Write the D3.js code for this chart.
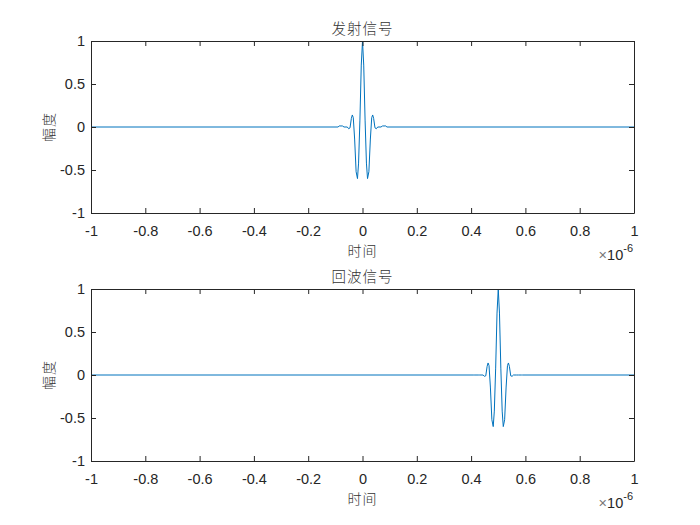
<!DOCTYPE html>
<html>
    <head>
        <meta charset="utf-8">
        <script src="https://cdn.jsdelivr.net/npm/d3@7"></script>
        <style>
            body { margin: 0; background: #fff; }
            .tick text { font-family: "Liberation Sans", Arial, sans-serif; font-size: 14.5px; fill: #262626; }
            .cjk { font-family: "Noto Sans CJK SC", sans-serif; font-weight: 300; fill: #333; }
        </style>
    </head>
    <body>
        <svg id="chart" width=700 height=525></svg>
        <script>
            // Data (time in microseconds, shown as x 10^-6)
            var xTicks = [-1, -0.8, -0.6, -0.4, -0.2, 0, 0.2, 0.4, 0.6, 0.8, 1];
            var yTicks = [-1, -0.5, 0, 0.5, 1];
            var titles = ["发射信号", "回波信号"];

            // pulse shape: offset from pulse centre (us) and amplitude
            var pulseOffset = [-0.09, -0.086, -0.074, -0.068, -0.056, -0.051, -0.046, -0.041, -0.0375, -0.034, -0.029,
                               -0.0235, -0.0185, -0.0145, -0.0095, -0.0045, 0,
                               0.0045, 0.0095, 0.0145, 0.0185, 0.0235, 0.029, 0.034, 0.0375, 0.041, 0.046,
                               0.051, 0.056, 0.068, 0.074, 0.086, 0.09];
            var txAmp = [0, 0.012, 0.012, 0, 0, -0.02, -0.01, 0.10, 0.14, 0.11, -0.14,
                         -0.52, -0.60, -0.42, 0.08, 0.72, 1.0,
                         0.72, 0.08, -0.42, -0.60, -0.52, -0.14, 0.11, 0.14, 0.10, -0.01,
                         -0.02, 0, 0, 0.012, 0.012, 0];
            var rxAmp = [0, 0, 0, 0, 0, -0.015, -0.01, 0.10, 0.14, 0.11, -0.14,
                         -0.52, -0.60, -0.42, 0.08, 0.72, 1.0,
                         0.72, 0.08, -0.42, -0.60, -0.52, -0.14, 0.11, 0.14, 0.10, -0.01,
                         -0.015, 0, 0, 0, 0, 0];
            var centres = [0, 0.5];

            var margin = {left: 91, right: 66};
            var width = 700 - margin.left - margin.right;
            var tops = [41, 289];
            var height = 172;

            var svg = d3.select("svg#chart");
            var x = d3.scaleLinear().domain([-1, 1]).range([0, width]);
            var y = d3.scaleLinear().domain([-1, 1]).range([height, 0]);

            var series = [txAmp, rxAmp];

            series.forEach(function(amp, i) {
                var g = svg.append("g").attr("transform", "translate(" + margin.left + "," + tops[i] + ")");
                // zero baseline over the whole window, pulse in between
                var pts = [[x.domain()[0], 0]]
                    .concat(pulseOffset.map(function(o, j) { return [o + centres[i], amp[j]]; }))
                    .concat([[x.domain()[1], 0]]);

                // Line
                g.append("path").datum(pts).attr("fill", "none").attr("stroke", "#0072BD").attr("stroke-width", 1)
                    .attr("d", d3.line().x(function(d) { return x(d[0]); }).y(function(d) { return y(d[1]); }));

                // Axes (box with inward ticks on all sides)
                var fmt = function(d) { return String(d); };
                g.append("g").attr("transform", "translate(0," + height + ")")
                    .call(d3.axisBottom(x).tickValues(xTicks).tickFormat(fmt).tickSizeInner(-5).tickSizeOuter(0).tickPadding(13));
                g.append("g").call(d3.axisTop(x).tickValues(xTicks).tickFormat("").tickSizeInner(-5).tickSizeOuter(0));
                g.append("g")
                    .call(d3.axisLeft(y).tickValues(yTicks).tickFormat(fmt).tickSizeInner(-5).tickSizeOuter(0).tickPadding(6));
                g.append("g").attr("transform", "translate(" + width + ",0)")
                    .call(d3.axisRight(y).tickValues(yTicks).tickFormat("").tickSizeInner(-5).tickSizeOuter(0));
                g.selectAll(".domain, .tick line").attr("stroke", "#262626").attr("stroke-width", 1);

                // Labels
                g.append("text").attr("class", "cjk").attr("x", width / 2).attr("y", -7).attr("text-anchor", "middle")
                    .style("font-size", "14.5px").style("letter-spacing", "1px").text(titles[i]);
                g.append("text").attr("class", "cjk").attr("x", width / 2).attr("y", height + 43).attr("text-anchor", "middle")
                    .style("font-size", "14px").style("letter-spacing", "1px").text("时间");
                g.append("text").attr("class", "cjk").attr("transform", "rotate(-90)").attr("x", -height / 2).attr("y", -37)
                    .attr("text-anchor", "middle").style("font-size", "14px").style("letter-spacing", "1px").text("幅度");

                // Exponent
                var ex = g.append("text").attr("x", width - 1).attr("y", height + 47).attr("text-anchor", "end")
                    .style("font-family", "Liberation Sans, Arial, sans-serif").style("font-size", "14.5px").attr("fill", "#262626");
                ex.append("tspan").attr("fill", "#777").text("×");
                ex.append("tspan").text("10");
                ex.append("tspan").attr("dy", -8).style("font-size", "11px").text("-6");
            });
        </script>
    </body>
</html>
